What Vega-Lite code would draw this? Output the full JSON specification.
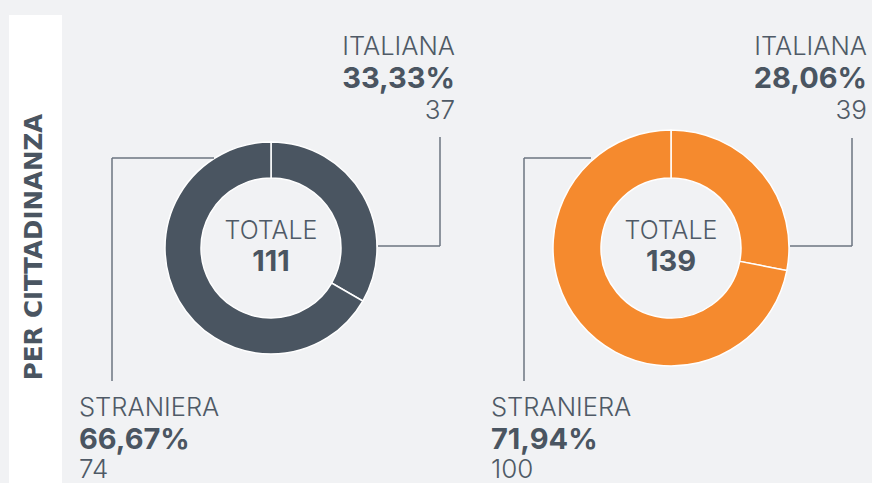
{
  "$schema": "https://vega.github.io/schema/vega-lite/v6.json",
  "width": 872,
  "height": 483,
  "autosize": {"type": "fit", "contains": "padding"},
  "padding": 0,
  "background": "#f1f2f4",
  "config": {
    "view": {"stroke": null},
    "locale": {"number": {"decimal": ",", "thousands": ".", "grouping": [3], "currency": ["", " €"]}},
    "text": {"font": "Inter"}
  },
  "datasets": {
    "cittadinanza": [
      {"gruppo": "A", "categoria": "ITALIANA", "n": 37, "quota": 0.3333, "totale": 111},
      {"gruppo": "A", "categoria": "STRANIERA", "n": 74, "quota": 0.6667, "totale": 111},
      {"gruppo": "B", "categoria": "ITALIANA", "n": 39, "quota": 0.2806, "totale": 139},
      {"gruppo": "B", "categoria": "STRANIERA", "n": 100, "quota": 0.7194, "totale": 139}
    ]
  },
  "data": {"name": "cittadinanza"},
  "encoding": {
    "x": {"type": "quantitative", "scale": {"domain": [0, 872], "nice": false, "zero": false}, "axis": null},
    "y": {"type": "quantitative", "scale": {"domain": [0, 483], "nice": false, "zero": false, "reverse": true}, "axis": null}
  },
  "layer": [
    {
      "data": {"values": [{}]},
      "mark": {"type": "rect", "fill": "#ffffff"},
      "encoding": {"x": {"datum": 9}, "x2": {"datum": 62}, "y": {"datum": 15}, "y2": {"datum": 483}}
    },
    {
      "data": {"values": [{"titolo": "PER CITTADINANZA"}]},
      "mark": {"type": "text", "font": "DejaVu Sans", "angle": 270, "align": "center", "baseline": "middle", "fontSize": 24.5, "fontWeight": "bold", "fill": "#4a5561"},
      "encoding": {"x": {"datum": 35}, "y": {"datum": 247}, "text": {"field": "titolo"}}
    },
    {
      "transform": [
        {"filter": "datum.gruppo == 'A'"},
        {"stack": "n", "groupby": ["gruppo"], "offset": "normalize", "sort": [{"field": "categoria", "order": "ascending"}], "as": ["t0", "t1"]}
      ],
      "mark": {"type": "arc", "radius": 106, "radius2": 70, "fill": "#4a5561", "stroke": "#ffffff", "strokeWidth": 1.5},
      "encoding": {
        "x": {"datum": 271},
        "y": {"datum": 248},
        "theta": {"field": "t0", "type": "quantitative", "scale": {"domain": [0, 1]}},
        "theta2": {"field": "t1"}
      }
    },
    {
      "transform": [
        {"filter": "datum.gruppo == 'B'"},
        {"stack": "n", "groupby": ["gruppo"], "offset": "normalize", "sort": [{"field": "categoria", "order": "ascending"}], "as": ["t0", "t1"]}
      ],
      "mark": {"type": "arc", "radius": 118, "radius2": 70, "fill": "#f58a2e", "stroke": "#ffffff", "strokeWidth": 1.5},
      "encoding": {
        "x": {"datum": 671},
        "y": {"datum": 248},
        "theta": {"field": "t0", "type": "quantitative", "scale": {"domain": [0, 1]}},
        "theta2": {"field": "t1"}
      }
    },
    {"data": {"values": [{}]}, "mark": {"type": "rule", "stroke": "#6b7480", "strokeWidth": 1.5}, "encoding": {"x": {"datum": 378}, "x2": {"datum": 440}, "y": {"datum": 246}, "y2": {"datum": 246}}},
    {"data": {"values": [{}]}, "mark": {"type": "rule", "stroke": "#6b7480", "strokeWidth": 1.5}, "encoding": {"x": {"datum": 440}, "x2": {"datum": 440}, "y": {"datum": 137}, "y2": {"datum": 246}}},
    {"data": {"values": [{}]}, "mark": {"type": "rule", "stroke": "#6b7480", "strokeWidth": 1.5}, "encoding": {"x": {"datum": 112}, "x2": {"datum": 214}, "y": {"datum": 158}, "y2": {"datum": 158}}},
    {"data": {"values": [{}]}, "mark": {"type": "rule", "stroke": "#6b7480", "strokeWidth": 1.5}, "encoding": {"x": {"datum": 112}, "x2": {"datum": 112}, "y": {"datum": 158}, "y2": {"datum": 381}}},
    {"data": {"values": [{}]}, "mark": {"type": "rule", "stroke": "#6b7480", "strokeWidth": 1.5}, "encoding": {"x": {"datum": 790}, "x2": {"datum": 852}, "y": {"datum": 246}, "y2": {"datum": 246}}},
    {"data": {"values": [{}]}, "mark": {"type": "rule", "stroke": "#6b7480", "strokeWidth": 1.5}, "encoding": {"x": {"datum": 852}, "x2": {"datum": 852}, "y": {"datum": 138}, "y2": {"datum": 246}}},
    {"data": {"values": [{}]}, "mark": {"type": "rule", "stroke": "#6b7480", "strokeWidth": 1.5}, "encoding": {"x": {"datum": 524}, "x2": {"datum": 591}, "y": {"datum": 158}, "y2": {"datum": 158}}},
    {"data": {"values": [{}]}, "mark": {"type": "rule", "stroke": "#6b7480", "strokeWidth": 1.5}, "encoding": {"x": {"datum": 524}, "x2": {"datum": 524}, "y": {"datum": 158}, "y2": {"datum": 381}}},

    {"transform": [{"filter": "datum.gruppo == 'A' && datum.categoria == 'ITALIANA'"}], "mark": {"type": "text", "align": "right", "baseline": "alphabetic", "fontSize": 25.5, "fontWeight": 300, "fill": "#4f5a66"}, "encoding": {"x": {"datum": 455}, "y": {"datum": 55}, "text": {"field": "categoria"}}},
    {"transform": [{"filter": "datum.gruppo == 'A' && datum.categoria == 'ITALIANA'"}], "mark": {"type": "text", "align": "right", "baseline": "alphabetic", "fontSize": 29, "fontWeight": "bold", "fill": "#4a5561"}, "encoding": {"x": {"datum": 455}, "y": {"datum": 88}, "text": {"field": "quota", "type": "quantitative", "format": ".2%"}}},
    {"transform": [{"filter": "datum.gruppo == 'A' && datum.categoria == 'ITALIANA'"}], "mark": {"type": "text", "align": "right", "baseline": "alphabetic", "fontSize": 26, "fontWeight": 300, "fill": "#4f5a66"}, "encoding": {"x": {"datum": 455}, "y": {"datum": 119}, "text": {"field": "n", "type": "quantitative"}}},

    {"transform": [{"filter": "datum.gruppo == 'B' && datum.categoria == 'ITALIANA'"}], "mark": {"type": "text", "align": "right", "baseline": "alphabetic", "fontSize": 25.5, "fontWeight": 300, "fill": "#4f5a66"}, "encoding": {"x": {"datum": 867}, "y": {"datum": 55}, "text": {"field": "categoria"}}},
    {"transform": [{"filter": "datum.gruppo == 'B' && datum.categoria == 'ITALIANA'"}], "mark": {"type": "text", "align": "right", "baseline": "alphabetic", "fontSize": 29, "fontWeight": "bold", "fill": "#4a5561"}, "encoding": {"x": {"datum": 867}, "y": {"datum": 88}, "text": {"field": "quota", "type": "quantitative", "format": ".2%"}}},
    {"transform": [{"filter": "datum.gruppo == 'B' && datum.categoria == 'ITALIANA'"}], "mark": {"type": "text", "align": "right", "baseline": "alphabetic", "fontSize": 26, "fontWeight": 300, "fill": "#4f5a66"}, "encoding": {"x": {"datum": 867}, "y": {"datum": 119}, "text": {"field": "n", "type": "quantitative"}}},

    {"transform": [{"filter": "datum.gruppo == 'A' && datum.categoria == 'STRANIERA'"}], "mark": {"type": "text", "align": "left", "baseline": "alphabetic", "fontSize": 25.5, "fontWeight": 300, "fill": "#4f5a66"}, "encoding": {"x": {"datum": 79}, "y": {"datum": 416}, "text": {"field": "categoria"}}},
    {"transform": [{"filter": "datum.gruppo == 'A' && datum.categoria == 'STRANIERA'"}], "mark": {"type": "text", "align": "left", "baseline": "alphabetic", "fontSize": 29, "fontWeight": "bold", "fill": "#4a5561"}, "encoding": {"x": {"datum": 79}, "y": {"datum": 449}, "text": {"field": "quota", "type": "quantitative", "format": ".2%"}}},
    {"transform": [{"filter": "datum.gruppo == 'A' && datum.categoria == 'STRANIERA'"}], "mark": {"type": "text", "align": "left", "baseline": "alphabetic", "fontSize": 26, "fontWeight": 300, "fill": "#4f5a66"}, "encoding": {"x": {"datum": 79}, "y": {"datum": 478}, "text": {"field": "n", "type": "quantitative"}}},

    {"transform": [{"filter": "datum.gruppo == 'B' && datum.categoria == 'STRANIERA'"}], "mark": {"type": "text", "align": "left", "baseline": "alphabetic", "fontSize": 25.5, "fontWeight": 300, "fill": "#4f5a66"}, "encoding": {"x": {"datum": 491}, "y": {"datum": 416}, "text": {"field": "categoria"}}},
    {"transform": [{"filter": "datum.gruppo == 'B' && datum.categoria == 'STRANIERA'"}], "mark": {"type": "text", "align": "left", "baseline": "alphabetic", "fontSize": 29, "fontWeight": "bold", "fill": "#4a5561"}, "encoding": {"x": {"datum": 491}, "y": {"datum": 449}, "text": {"field": "quota", "type": "quantitative", "format": ".2%"}}},
    {"transform": [{"filter": "datum.gruppo == 'B' && datum.categoria == 'STRANIERA'"}], "mark": {"type": "text", "align": "left", "baseline": "alphabetic", "fontSize": 26, "fontWeight": 300, "fill": "#4f5a66"}, "encoding": {"x": {"datum": 491}, "y": {"datum": 478}, "text": {"field": "n", "type": "quantitative"}}},

    {"data": {"values": [{"etichetta": "TOTALE"}]}, "mark": {"type": "text", "align": "center", "baseline": "alphabetic", "fontSize": 25, "fontWeight": 300, "fill": "#4f5a66"}, "encoding": {"x": {"datum": 271}, "y": {"datum": 239}, "text": {"field": "etichetta"}}},
    {"data": {"values": [{"etichetta": "TOTALE"}]}, "mark": {"type": "text", "align": "center", "baseline": "alphabetic", "fontSize": 25, "fontWeight": 300, "fill": "#4f5a66"}, "encoding": {"x": {"datum": 671}, "y": {"datum": 239}, "text": {"field": "etichetta"}}},
    {"transform": [{"filter": "datum.gruppo == 'A' && datum.categoria == 'ITALIANA'"}], "mark": {"type": "text", "align": "center", "baseline": "alphabetic", "fontSize": 29, "fontWeight": "bold", "fill": "#4a5561"}, "encoding": {"x": {"datum": 271}, "y": {"datum": 271}, "text": {"field": "totale", "type": "quantitative"}}},
    {"transform": [{"filter": "datum.gruppo == 'B' && datum.categoria == 'ITALIANA'"}], "mark": {"type": "text", "align": "center", "baseline": "alphabetic", "fontSize": 29, "fontWeight": "bold", "fill": "#4a5561"}, "encoding": {"x": {"datum": 671}, "y": {"datum": 271}, "text": {"field": "totale", "type": "quantitative"}}}
  ]
}
